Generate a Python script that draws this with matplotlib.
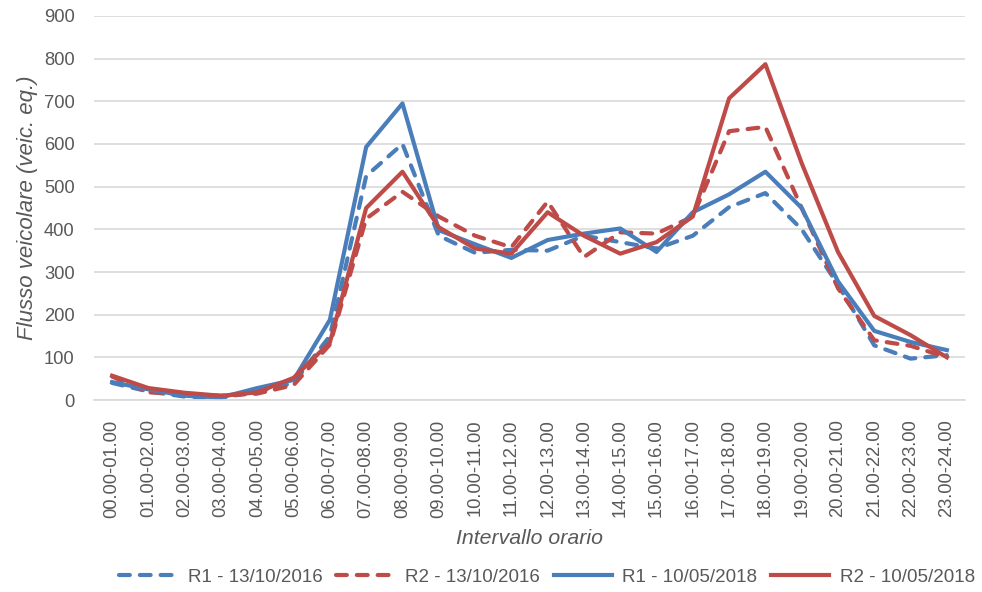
import matplotlib.pyplot as plt
import numpy as np

plt.rcParams['font.family'] = ['Liberation Sans', 'DejaVu Sans']

fasce = ['00.00-01.00', '01.00-02.00', '02.00-03.00', '03.00-04.00', '04.00-05.00',
         '05.00-06.00', '06.00-07.00', '07.00-08.00', '08.00-09.00', '09.00-10.00',
         '10.00-11.00', '11.00-12.00', '12.00-13.00', '13.00-14.00', '14.00-15.00',
         '15.00-16.00', '16.00-17.00', '17.00-18.00', '18.00-19.00', '19.00-20.00',
         '20.00-21.00', '21.00-22.00', '22.00-23.00', '23.00-24.00']

r1_2016 = [40, 20, 8, 5, 20, 40, 150, 525, 600, 385, 345, 352, 350, 385, 370, 355,
           385, 452, 485, 400, 270, 128, 97, 105]
r2_2016 = [55, 18, 14, 10, 15, 35, 130, 425, 488, 430, 385, 358, 465, 335, 393, 390,
           430, 630, 640, 450, 262, 140, 127, 100]
r1_2018 = [42, 25, 10, 6, 28, 47, 188, 593, 695, 398, 365, 333, 375, 390, 402, 347,
           440, 482, 535, 450, 278, 162, 136, 117]
r2_2018 = [57, 28, 17, 10, 18, 52, 135, 450, 535, 405, 355, 343, 440, 385, 343, 370,
           430, 707, 787, 555, 347, 197, 152, 100]

blu = '#4A7EBB'
rosso = '#BE4B48'
grigio = '#595959'

fig = plt.figure(figsize=(9.82, 5.92), dpi=100)
ax = fig.add_axes([0.0957, 0.3243, 0.887, 0.6487])

x = np.arange(len(fasce))
lw = 3.0
tratteggio = (0, (2.6, 2.4))
ax.plot(x, r1_2016, color=blu, lw=lw, ls=tratteggio, dash_capstyle='round',
        label='R1 - 13/10/2016')
ax.plot(x, r2_2016, color=rosso, lw=lw, ls=tratteggio, dash_capstyle='round',
        label='R2 - 13/10/2016')
ax.plot(x, r1_2018, color=blu, lw=lw, label='R1 - 10/05/2018')
ax.plot(x, r2_2018, color=rosso, lw=lw, label='R2 - 10/05/2018')

ax.set_xlim(-0.5, len(fasce) - 0.5)
ax.set_ylim(0, 900)
ax.set_yticks(range(0, 901, 100))
ax.set_xticks(x)
ax.set_xticklabels(fasce, rotation=90)
ax.tick_params(axis='both', length=0, labelsize=13.2, colors=grigio)
ax.tick_params(axis='y', pad=14)
ax.tick_params(axis='x', pad=14)
ax.grid(axis='y', color='#D9D9D9', lw=1.2)
ax.set_axisbelow(True)
for s in ['top', 'right', 'left']:
    ax.spines[s].set_visible(False)
ax.spines['bottom'].set_color('#D9D9D9')
ax.spines['bottom'].set_linewidth(1.2)

ax.set_ylabel('Flusso veicolare (veic. eq.)', fontsize=16, style='italic',
              color=grigio, labelpad=4)
ax.set_xlabel('Intervallo orario', fontsize=15.3, style='italic', color=grigio,
              labelpad=8)

leg = fig.legend(loc='lower center', bbox_to_anchor=(0.557, -0.018), ncol=4,
                 frameon=False, fontsize=13.5, handlelength=3.1, columnspacing=0.75,
                 handletextpad=0.55)
for t in leg.get_texts():
    t.set_color(grigio)

fig.savefig('out.png', dpi=100)
